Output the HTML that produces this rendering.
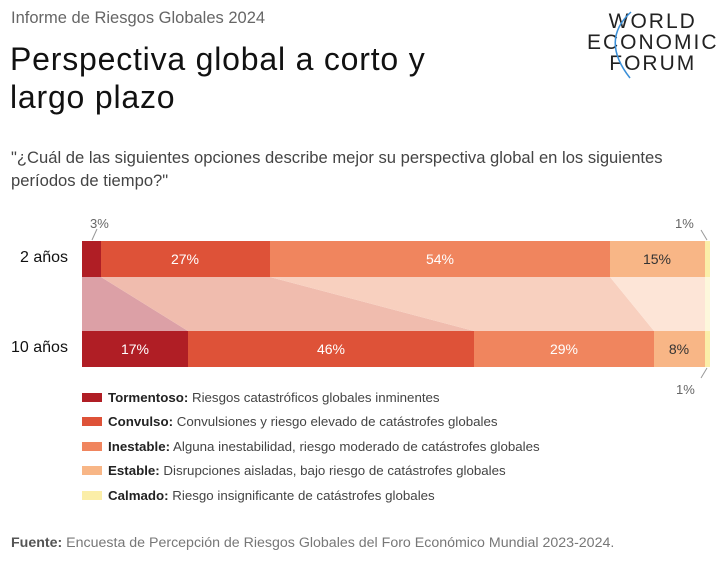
<!DOCTYPE html>
<html><head><meta charset="utf-8"><style>
body{margin:0;width:722px;height:564px;background:#fff;font-family:"Liberation Sans",sans-serif;overflow:hidden;position:relative}
.t{position:absolute;white-space:nowrap}
</style></head><body>
<div class="t" style="left:11px;top:9px;font-size:16.5px;color:#666">Informe de Riesgos Globales 2024</div>
<div class="t" style="left:10px;top:40px;font-size:32px;color:#111;line-height:38px;letter-spacing:0.8px">Perspectiva global a corto y<br>largo plazo</div>
<div class="t" style="left:587px;top:11px;font-size:21px;color:#222;letter-spacing:2px;line-height:21px;text-align:center">WORLD<br>ECONOMIC<br>FORUM</div>
<svg style="position:absolute;left:0;top:0" width="722" height="564">
<path d="M631 12 Q600 40 630 78" stroke="#3a8fd8" stroke-width="1.5" fill="none"/>
<g>
<polygon points="82,277 101,277 188,331 82,331" fill="#dca0a6"/>
<polygon points="101,277 270,277 474,331 188,331" fill="#f0bcae"/>
<polygon points="270,277 610,277 654,331 474,331" fill="#f8d0bf"/>
<polygon points="610,277 705,277 705,331 654,331" fill="#fde5d7"/>
<polygon points="705,277 710,277 710,331 705,331" fill="#fdf7dc"/>
<rect x="82" y="241" width="19" height="36" fill="#b01e25"/>
<rect x="101" y="241" width="169" height="36" fill="#de5238"/>
<rect x="270" y="241" width="340" height="36" fill="#f0855e"/>
<rect x="610" y="241" width="95" height="36" fill="#f8b686"/>
<rect x="705" y="241" width="5" height="36" fill="#fbeea8"/>
<rect x="82" y="331" width="106" height="36" fill="#b01e25"/>
<rect x="188" y="331" width="286" height="36" fill="#de5238"/>
<rect x="474" y="331" width="180" height="36" fill="#f0855e"/>
<rect x="654" y="331" width="51" height="36" fill="#f8b686"/>
<rect x="705" y="331" width="5" height="36" fill="#fbeea8"/>
<path d="M92 240 L97 229" stroke="#999" fill="none"/>
<path d="M707 240 L701 230" stroke="#999" fill="none"/>
<path d="M707 368 L701 378" stroke="#999" fill="none"/>
</g>
<g font-size="14" fill="#fff" text-anchor="middle">
<text x="185" y="264">27%</text><text x="440" y="264">54%</text><text x="657" y="264" fill="#333">15%</text>
<text x="135" y="354">17%</text><text x="331" y="354">46%</text><text x="564" y="354">29%</text><text x="679" y="354" fill="#333">8%</text>
</g>
<g font-size="13" fill="#666"><text x="90" y="228">3%</text><text x="675" y="228">1%</text><text x="676" y="394">1%</text></g>
</svg>
<div class="t" style="left:20px;top:249px;font-size:16px;color:#111">2 años</div>
<div class="t" style="left:11px;top:339px;font-size:16px;color:#111">10 años</div>
<div class="t" style="left:11px;top:146px;font-size:16.6px;color:#444;line-height:23px">"¿Cuál de las siguientes opciones describe mejor su perspectiva global en los siguientes<br>períodos de tiempo?"</div>
<div style="position:absolute;left:82px;top:386px;font-size:13.3px;color:#444;line-height:24.4px">
<div><span style="display:inline-block;width:20px;height:9px;background:#b01e25;margin-right:6px"></span><b style="color:#222">Tormentoso:</b> Riesgos catastróficos globales inminentes</div>
<div><span style="display:inline-block;width:20px;height:9px;background:#de5238;margin-right:6px"></span><b style="color:#222">Convulso:</b> Convulsiones y riesgo elevado de catástrofes globales</div>
<div><span style="display:inline-block;width:20px;height:9px;background:#f0855e;margin-right:6px"></span><b style="color:#222">Inestable:</b> Alguna inestabilidad, riesgo moderado de catástrofes globales</div>
<div><span style="display:inline-block;width:20px;height:9px;background:#f8b686;margin-right:6px"></span><b style="color:#222">Estable:</b> Disrupciones aisladas, bajo riesgo de catástrofes globales</div>
<div><span style="display:inline-block;width:20px;height:9px;background:#fbeea8;margin-right:6px"></span><b style="color:#222">Calmado:</b> Riesgo insignificante de catástrofes globales</div>
</div>
<div class="t" style="left:11px;top:535px;font-size:14.2px;color:#777"><b style="color:#555">Fuente:</b> Encuesta de Percepción de Riesgos Globales del Foro Económico Mundial 2023-2024.</div>
</body></html>
